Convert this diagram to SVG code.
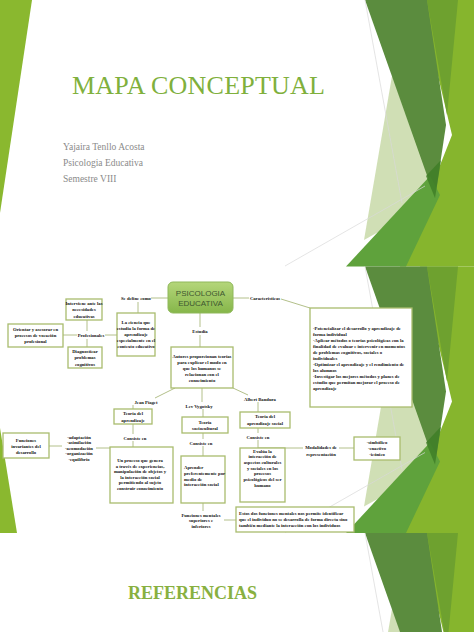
<svg xmlns="http://www.w3.org/2000/svg" xmlns:xlink="http://www.w3.org/1999/xlink" width="474" height="632" viewBox="0 0 474 632">
<style>
.box{fill:#fff;stroke:#a9bc6e;stroke-width:1.3}
.t{font-family:"Liberation Serif","Times New Roman",serif;font-size:4.7px;fill:#111;font-weight:bold}
.c{text-anchor:middle}
.con{stroke:#b3c08a;stroke-width:1;fill:none}
.sub{font-family:"Liberation Serif","Times New Roman",serif;font-size:9.5px;fill:#8a8a8a}
</style>
<defs>
<linearGradient id="ng" x1="0" y1="0" x2="0" y2="1">
<stop offset="0" stop-color="#b4d67a"/><stop offset="1" stop-color="#86b64a"/>
</linearGradient>
<g id="facet">
<polygon points="420,0 474,0 474,266.5 400,266.5 452,135" fill="#86b52d"/>
<polygon points="427,0 458,0 447,115" fill="#6ea12f"/>
<polygon points="393,70 436,200 364,240" fill="#c4d7a2" opacity="0.8"/>
<polygon points="365,0 427,0 446,125 435,198" fill="#5b8c3e"/>
<polygon points="430,176 440,195 406,266.5 346,266.5" fill="#5fa23c"/>
<polygon points="426,176 441,160 435,198" fill="#3d7d25" opacity="0.8"/>
<line x1="365" y1="0" x2="402" y2="203" stroke="#d8d8d8" stroke-width="0.7"/>
<line x1="285" y1="266" x2="425" y2="186" stroke="#d8d8d8" stroke-width="0.7"/>
</g>
</defs>
<rect width="474" height="632" fill="#fff"/>
<!-- slide 1 -->
<g id="slide1">
<polygon points="0,0 32,0 0,213" fill="#8ab82f"/>
<use xlink:href="#facet"/>
<text x="72" y="94" font-family="Liberation Serif,serif" font-size="26" fill="#80b03c" textLength="253">MAPA CONCEPTUAL</text>
<text class="sub" x="63" y="150">Yajaira Tenllo Acosta</text>
<text class="sub" x="63" y="166">Psicologia Educativa</text>
<text class="sub" x="63" y="182">Semestre VIII</text>
</g>
<!-- slide 2 -->
<g id="slide2bg">
<use xlink:href="#facet" y="266.5"/>
<polygon points="0,428 17,533 0,533" fill="#8ab82f"/>
</g>
<g id="connectors" class="con">
<line x1="151" y1="298" x2="168" y2="298"/>
<line x1="138" y1="302" x2="138" y2="313"/>
<line x1="63" y1="335" x2="77" y2="335"/>
<line x1="105" y1="335" x2="117" y2="335"/>
<line x1="87" y1="320" x2="87" y2="331"/>
<line x1="87" y1="339" x2="87" y2="347"/>
<line x1="200" y1="313" x2="200" y2="327"/>
<line x1="200" y1="335" x2="200" y2="347"/>
<line x1="233" y1="298" x2="249" y2="298"/>
<polyline points="281,299 310,308"/>
<line x1="175" y1="388" x2="155" y2="398"/>
<line x1="202" y1="388" x2="202" y2="402"/>
<line x1="233" y1="388" x2="248" y2="395"/>
<line x1="133" y1="405" x2="133" y2="409"/>
<line x1="133" y1="424" x2="133" y2="434"/>
<line x1="133" y1="441" x2="133" y2="447"/>
<line x1="203" y1="409" x2="203" y2="417"/>
<line x1="203" y1="433" x2="203" y2="439"/>
<line x1="203" y1="446" x2="203" y2="456"/>
<line x1="203" y1="503" x2="203" y2="511"/>
<line x1="258" y1="402" x2="258" y2="412"/>
<line x1="258" y1="428" x2="258" y2="433"/>
<line x1="258" y1="440" x2="258" y2="448"/>
<line x1="258" y1="448" x2="303" y2="448"/>
<line x1="339" y1="448" x2="354" y2="448"/>
<line x1="49" y1="446" x2="62" y2="446"/>
<line x1="96" y1="448" x2="110" y2="448"/>
<line x1="224" y1="520" x2="237" y2="520"/>
</g>
<g id="n-psicologia">
<rect x="168" y="282" width="65" height="31" rx="5" fill="url(#ng)" stroke="#8fb85a"/>
<text x="200.5" y="296" text-anchor="middle" font-family="Liberation Sans,sans-serif" font-size="8" fill="#3e5630">PSICOLOGIA</text>
<text x="200.5" y="306" text-anchor="middle" font-family="Liberation Sans,sans-serif" font-size="8" fill="#3e5630">EDUCATIVA</text>
</g>
<g id="l-sedefine"><text class="t c" x="136" y="299.5">Se define como</text></g>
<g id="n-ciencia">
<rect class="box" x="117" y="313" width="38" height="43"/>
<text class="t c" x="136" y="323.5">La ciencia que</text>
<text class="t c" x="136" y="329.5">estudia la forma de</text>
<text class="t c" x="136" y="335.5">aprendizaje</text>
<text class="t c" x="136" y="341.5">especialmente en el</text>
<text class="t c" x="136" y="347.5">contexto educativo</text>
</g>
<g id="n-interviene">
<rect class="box" x="66" y="299" width="36" height="21"/>
<text class="t c" x="84" y="305">Interviene ante las</text>
<text class="t c" x="84" y="311">necesidades</text>
<text class="t c" x="84" y="317.5">educativas</text>
</g>
<g id="l-profesionales"><text class="t c" x="91" y="336.5">Profesionales</text></g>
<g id="n-orientar">
<rect class="box" x="8" y="324" width="55" height="23"/>
<text class="t c" x="35.5" y="331">Orientar y asesorar en</text>
<text class="t c" x="35.5" y="337">procesos de vocación</text>
<text class="t c" x="35.5" y="343">profesional</text>
</g>
<g id="n-diagnosticar">
<rect class="box" x="68" y="347" width="34" height="21"/>
<text class="t c" x="85" y="353">Diagnosticar</text>
<text class="t c" x="85" y="359">problemas</text>
<text class="t c" x="85" y="365.5">cognitivos</text>
</g>
<g id="l-estudia"><text class="t c" x="200" y="332.5">Estudia</text></g>
<g id="l-caracteristicas"><text class="t c" x="265" y="299.5">Características</text></g>
<g id="n-caracteristicas">
<rect class="box" x="310" y="308" width="102" height="99"/>
<text class="t" x="313" y="330">-Potencializar el desarrollo y aprendizaje de</text>
<text class="t" x="313" y="336">forma individual</text>
<text class="t" x="313" y="342">-Aplicar métodos o teorías psicológicas con la</text>
<text class="t" x="313" y="348">finalidad de evaluar e intervenir en momentos</text>
<text class="t" x="313" y="354">de problemas cognitivos, sociales o</text>
<text class="t" x="313" y="360">individuales</text>
<text class="t" x="313" y="366">-Optimizar el aprendizaje y el rendimiento de</text>
<text class="t" x="313" y="372">los alumnos</text>
<text class="t" x="313" y="378">-Investigar los mejores métodos y planes de</text>
<text class="t" x="313" y="384">estudio que permitan mejorar el proceso de</text>
<text class="t" x="313" y="390">aprendizaje</text>
</g>
<g id="n-autores">
<rect class="box" x="171" y="347" width="62" height="41"/>
<text class="t c" x="202" y="357.5">Autores proporcionan teorías</text>
<text class="t c" x="202" y="363.5">para explicar el modo en</text>
<text class="t c" x="202" y="369.5">que los humanos se</text>
<text class="t c" x="202" y="375.5">relacionan con el</text>
<text class="t c" x="202" y="382">conocimiento</text>
</g>
<g id="l-piaget"><text class="t c" x="146" y="403.5">Jean Piaget</text></g>
<g id="l-vygotsky"><text class="t c" x="199" y="407.5">Lev Vygotsky</text></g>
<g id="l-bandura"><text class="t c" x="260" y="400.5">Albert Bandura</text></g>
<g id="n-teoria-aprendizaje">
<rect class="box" x="114" y="409" width="38" height="15"/>
<text class="t c" x="133" y="415">Teoría del</text>
<text class="t c" x="133" y="421.5">aprendizaje</text>
</g>
<g id="n-sociocultural">
<rect class="box" x="182" y="417" width="46" height="16"/>
<text class="t c" x="205" y="423.5">Teoría</text>
<text class="t c" x="205" y="429.5">sociocultural</text>
</g>
<g id="n-aprendizaje-social">
<rect class="box" x="240" y="412" width="50" height="16"/>
<text class="t c" x="265" y="418">Teoría del</text>
<text class="t c" x="265" y="424.5">aprendizaje social</text>
</g>
<g id="l-consiste1"><text class="t c" x="135" y="439.5">Consiste en</text></g>
<g id="l-consiste2"><text class="t c" x="201" y="444.5">Consiste en</text></g>
<g id="l-consiste3"><text class="t c" x="258" y="438.5">Consiste en</text></g>
<g id="n-funciones-invariantes">
<rect class="box" x="3" y="433" width="46" height="25"/>
<text class="t c" x="26" y="441.5">Funciones</text>
<text class="t c" x="26" y="447.5">invariantes del</text>
<text class="t c" x="26" y="453.5">desarrollo</text>
</g>
<g id="l-lista"><text class="t c" x="79" y="438.5">-adaptación</text>
<text class="t c" x="79" y="444">-asimilación</text>
<text class="t c" x="79" y="449.5">-acomodación</text>
<text class="t c" x="79" y="455">-organización</text>
<text class="t c" x="79" y="461">-equilibrio</text></g>
<g id="n-proceso">
<rect class="box" x="110" y="447" width="63" height="56"/>
<text class="t c" x="140" y="461.5">Un proceso que genera</text>
<text class="t c" x="140" y="467.5">a través de experiencias,</text>
<text class="t c" x="140" y="473">manipulación de objetos y</text>
<text class="t c" x="140" y="478.5">la interacción social</text>
<text class="t c" x="140" y="484">permitiendo al sujeto</text>
<text class="t c" x="140" y="490">construir conocimiento</text>
</g>
<g id="n-aprender">
<rect class="box" x="181" y="456" width="44" height="47"/>
<text class="t" x="184" y="468.5">Aprender</text>
<text class="t" x="184" y="474.5">preferentemente por</text>
<text class="t" x="184" y="480.5">medio de</text>
<text class="t" x="184" y="486">interacción social</text>
</g>
<g id="n-evalua">
<rect class="box" x="240" y="448" width="45" height="54"/>
<text class="t c" x="262.5" y="452.5">Evalúa la</text>
<text class="t c" x="262.5" y="458">interacción de</text>
<text class="t c" x="262.5" y="463.5">aspectos culturales</text>
<text class="t c" x="262.5" y="469.5">y sociales en los</text>
<text class="t c" x="262.5" y="475">procesos</text>
<text class="t c" x="262.5" y="481">psicológicos del ser</text>
<text class="t c" x="262.5" y="486.5">humano</text>
</g>
<g id="l-modalidades"><text class="t c" x="321" y="448.5">Modalidades de</text>
<text class="t c" x="321" y="456">representación</text></g>
<g id="n-simbolico">
<rect class="box" x="354" y="437" width="46" height="23"/>
<text class="t c" x="377" y="443.5">-simbólico</text>
<text class="t c" x="377" y="449.5">-enactivo</text>
<text class="t c" x="377" y="455.5">-icónico</text>
</g>
<g id="l-funciones-mentales"><text class="t c" x="201" y="516.5">Funciones mentales</text>
<text class="t c" x="201" y="522">superiores e</text>
<text class="t c" x="201" y="527.5">inferiores</text></g>
<g id="n-estos">
<rect class="box" x="236" y="507" width="118" height="25"/>
<text class="t" x="239" y="514.5">Estos dos funciones mentales nos permite identificar</text>
<text class="t" x="239" y="520.5">que el individuo no se desarrolla de forma directa sino</text>
<text class="t" x="239" y="526.5">también mediante la interacción con los individuos</text>
</g>
<!-- slide 3 -->
<g id="slide3">
<use xlink:href="#facet" y="533"/>
<text x="128" y="599" font-family="Liberation Serif,serif" font-size="18" font-weight="bold" fill="#88b040">REFERENCIAS</text>
</g>
</svg>
